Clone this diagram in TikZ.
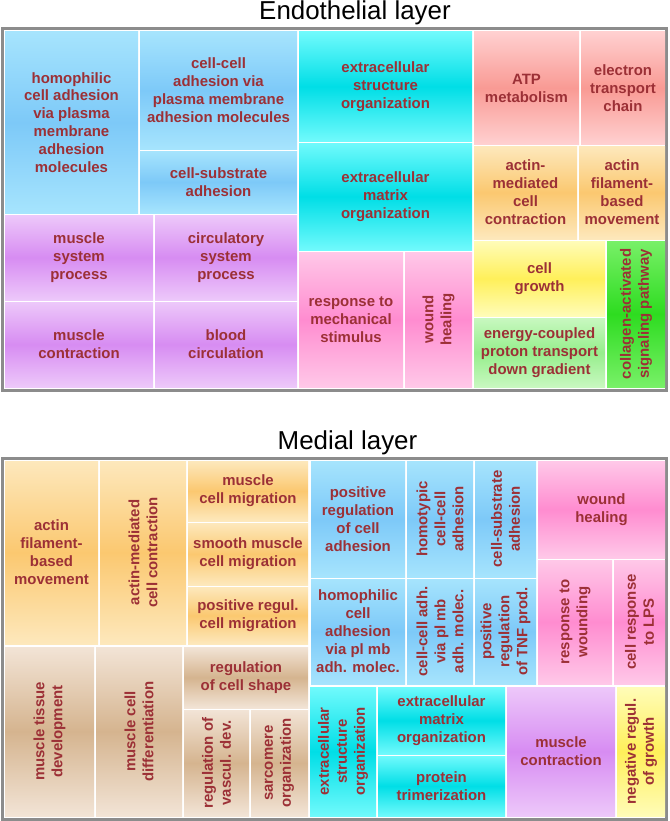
\documentclass[tikz,border=0pt]{standalone}
\usepackage{fontspec}
\setmainfont{Liberation Sans}
\definecolor{txt}{HTML}{9C3036}
\definecolor{blueE}{HTML}{A6E4FD}
\definecolor{blueM}{HTML}{7DC9F8}
\definecolor{cyanE}{HTML}{70FAFC}
\definecolor{cyanM}{HTML}{00DEE6}
\definecolor{purpE}{HTML}{EDC8FA}
\definecolor{purpM}{HTML}{D78CF2}
\definecolor{pinkE}{HTML}{FFC8E8}
\definecolor{pinkM}{HTML}{FF8CD0}
\definecolor{redE}{HTML}{FFD0D0}
\definecolor{redM}{HTML}{F99A94}
\definecolor{oranE}{HTML}{FDE8BC}
\definecolor{oranM}{HTML}{FBC870}
\definecolor{yelE}{HTML}{FFFCB8}
\definecolor{yelM}{HTML}{FFF05A}
\definecolor{lgrE}{HTML}{C8F8C0}
\definecolor{lgrM}{HTML}{96EE8C}
\definecolor{grnE}{HTML}{78F068}
\definecolor{grnM}{HTML}{2EDC20}
\definecolor{brnE}{HTML}{F2E4D6}
\definecolor{brnM}{HTML}{D5B48F}
\definecolor{framecol}{HTML}{8C8C8C}
\tikzset{
  lab/.style={font=\bfseries\fontsize{15}{18}\selectfont, text=txt, align=center, inner sep=0pt},
  ttl/.style={font=\fontsize{26}{30}\selectfont, text=black, anchor=base, inner sep=0pt},
  frm/.style={draw=framecol, line width=3bp},
  blu/.style={top color=blueE, bottom color=blueE, middle color=blueM},
  cya/.style={top color=cyanE, bottom color=cyanE, middle color=cyanM},
  pur/.style={top color=purpE, bottom color=purpE, middle color=purpM},
  pnk/.style={top color=pinkE, bottom color=pinkE, middle color=pinkM},
  rdd/.style={top color=redE, bottom color=redE, middle color=redM},
  orn/.style={top color=oranE, bottom color=oranE, middle color=oranM},
  yel/.style={top color=yelE, bottom color=yelE, middle color=yelM},
  lgr/.style={top color=lgrE, bottom color=lgrE, middle color=lgrM},
  grn/.style={top color=grnE, bottom color=grnE, middle color=grnM},
  brn/.style={top color=brnE, bottom color=brnE, middle color=brnM},
}
\newcommand\mytile[8]{%
  \path[#6] (#2,#3) rectangle (#4,#5);
  \node[lab,rotate=#7] (#1) at ({(#2+#4)/2},{(#3+#5)/2}) {#8};}
\begin{document}
\begin{tikzpicture}[x=1bp,y=-1bp]
\useasboundingbox[fill=white] (0,0) rectangle (670,821);
% titles
\node[ttl] (t1) at (355,20) {Endothelial layer};
\node[ttl] (t2) at (347.5,449) {Medial layer};
% frames
\draw[frm] (2.5,28.5) rectangle (666.5,390);
\draw[frm] (2.5,458) rectangle (666.5,819);
% Endothelial
\mytile{e1}{5}{32}{138}{213}{blu}{0}{homophilic\\cell adhesion\\via plasma\\membrane\\adhesion\\molecules}
\mytile{e2}{140}{32}{297}{149}{blu}{0}{cell-cell\\adhesion via\\plasma membrane\\adhesion molecules}
\mytile{e3}{140}{151}{297}{213}{blu}{0}{cell-substrate\\adhesion}
\mytile{e4}{5}{215}{153}{300}{pur}{0}{muscle\\system\\process}
\mytile{e5}{155}{215}{297}{300}{pur}{0}{circulatory\\system\\process}
\mytile{e6}{5}{302}{153}{387}{pur}{0}{muscle\\contraction}
\mytile{e7}{155}{302}{297}{387}{pur}{0}{blood\\circulation}
\mytile{e8}{299}{32}{472}{141}{cya}{0}{extracellular\\structure\\organization}
\mytile{e9}{299}{143}{472}{250}{cya}{0}{extracellular\\matrix\\organization}
\mytile{e10}{299}{252}{403}{387}{pnk}{0}{response to\\mechanical\\stimulus}
\mytile{e11}{405}{252}{472}{387}{pnk}{90}{wound\\healing}
\mytile{e12}{474}{32}{579}{144}{rdd}{0}{ATP\\metabolism}
\mytile{e13}{581}{32}{665}{144}{rdd}{0}{electron\\transport\\chain}
\mytile{e14}{474}{146}{577}{239}{orn}{0}{actin-\\mediated\\cell\\contraction}
\mytile{e15}{579}{146}{665}{239}{orn}{0}{actin\\filament-\\based\\movement}
\mytile{e16}{474}{241}{605}{316}{yel}{0}{cell\\growth}
\mytile{e17}{474}{318}{605}{387}{lgr}{0}{energy-coupled\\proton transport\\down gradient}
\mytile{e18}{607}{241}{665}{387}{grn}{90}{collagen-activated\\signaling pathway}
% Medial
\mytile{m1}{5}{461}{98}{644}{orn}{0}{actin\\filament-\\based\\movement}
\mytile{m2}{100}{461}{186}{644}{orn}{90}{actin-mediated\\cell contraction}
\mytile{m3}{188}{461}{308}{521}{orn}{0}{muscle\\cell migration}
\mytile{m4}{188}{523}{308}{585}{orn}{0}{smooth muscle\\cell migration}
\mytile{m5}{188}{587}{308}{644}{orn}{0}{positive regul.\\cell migration}
\mytile{m6}{5}{647}{94}{816}{brn}{90}{muscle tissue\\development}
\mytile{m7}{96}{647}{182}{816}{brn}{90}{muscle cell\\differentiation}
\mytile{m8}{184}{647}{308}{708}{brn}{0}{regulation\\of cell shape}
\mytile{m9}{184}{710}{249}{816}{brn}{90}{regulation of\\vascul. dev.}
\mytile{m10}{251}{710}{308}{816}{brn}{90}{sarcomere\\organization}
\mytile{m11}{311}{461}{405}{577}{blu}{0}{positive\\regulation\\of cell\\adhesion}
\mytile{m12}{407}{461}{473}{577}{blu}{90}{homotypic\\cell-cell\\adhesion}
\mytile{m13}{475}{461}{536}{577}{blu}{90}{cell-substrate\\adhesion}
\mytile{m14}{311}{579}{405}{684}{blu}{0}{homophilic\\cell\\adhesion\\via pl mb\\adh. molec.}
\mytile{m15}{407}{579}{473}{684}{blu}{90}{cell-cell adh.\\via pl mb\\adh. molec.}
\mytile{m16}{475}{579}{536}{684}{blu}{90}{positive\\regulation\\of TNF prod.}
\mytile{m17}{538}{461}{665}{558}{pnk}{0}{wound\\healing}
\mytile{m18}{538}{560}{612}{684}{pnk}{90}{response to\\wounding}
\mytile{m19}{614}{560}{665}{684}{pnk}{90}{cell response\\to LPS}
\mytile{m20}{310}{687}{376}{816}{cya}{90}{extracellular\\structure\\organization}
\mytile{m21}{378}{687}{505}{754}{cya}{0}{extracellular\\matrix\\organization}
\mytile{m22}{378}{756}{505}{816}{cya}{0}{protein\\trimerization}
\mytile{m23}{507}{687}{615}{816}{pur}{0}{muscle\\contraction}
\mytile{m24}{617}{687}{665}{816}{yel}{90}{negative regul.\\of growth}
\end{tikzpicture}
\end{document}
